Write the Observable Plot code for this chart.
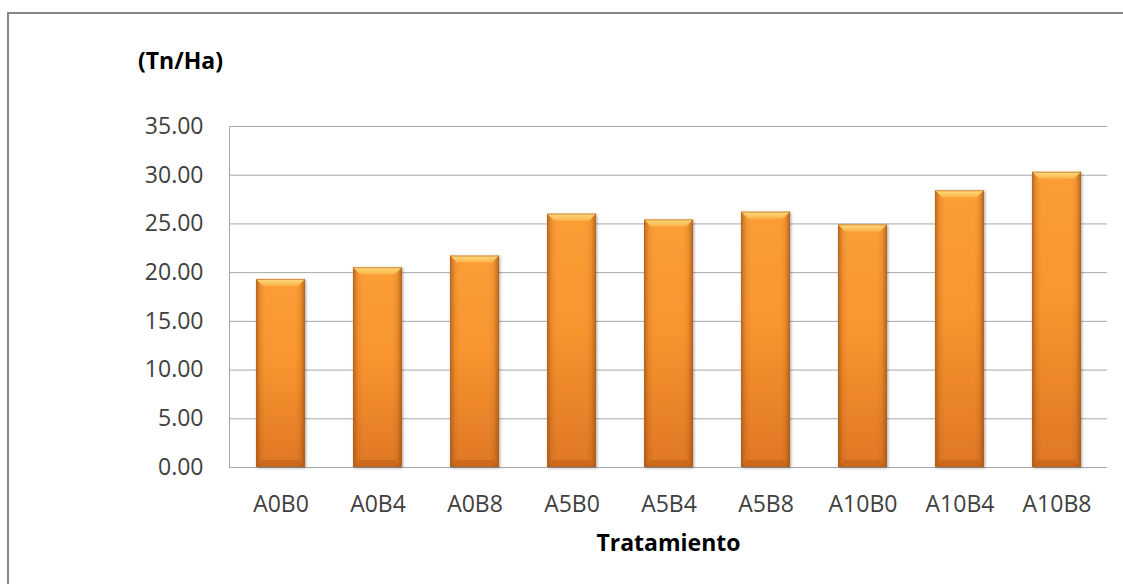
<!DOCTYPE html>
<html>
<head>
<meta charset="utf-8">
<script src="https://cdn.jsdelivr.net/npm/d3@7"></script>
<script src="https://cdn.jsdelivr.net/npm/@observablehq/plot@0.6"></script>
<style>
  html, body { margin: 0; padding: 0; background: #fff; overflow: hidden; }
  #wrap { position: relative; width: 1123px; height: 584px; }
  #box {
    position: absolute; left: 7px; top: 12px; width: 1200px; height: 700px;
    border: 2px solid #878787; box-sizing: border-box; pointer-events: none;
  }
</style>
</head>
<body>
<div id="wrap"><div id="box"></div></div>
<script>
// Rendimiento por tratamiento (Tn/Ha)
const tratamientos = ["A0B0", "A0B4", "A0B8", "A5B0", "A5B4", "A5B8", "A10B0", "A10B4", "A10B8"];
const rendimiento = [19.3, 20.5, 21.7, 26.0, 25.4, 26.2, 24.9, 28.4, 30.3];
const yTicks = [0, 5, 10, 15, 20, 25, 30, 35];

const data = tratamientos.map((t, i) => ({tratamiento: t, valor: rendimiento[i]}));

const font = "'Open Sans', 'DejaVu Sans', sans-serif";

const chart = Plot.plot({
  width: 1123,
  height: 584,
  marginLeft: 229,
  marginRight: 16,
  marginTop: 126,
  marginBottom: 117,
  style: {fontFamily: font, fontSize: "23px", color: "#404040", background: "transparent"},
  x: {domain: tratamientos, paddingInner: 0.5, paddingOuter: 0.25, label: null},
  y: {domain: [0, 35], label: null},
  marks: [
    Plot.gridY(yTicks, {stroke: "#a8a8a8", strokeOpacity: 1}),
    Plot.frame({anchor: "left", stroke: "#a8a8a8"}),
    Plot.ruleY([0], {stroke: "#a8a8a8"}),
    Plot.axisY(yTicks, {tickSize: 0, tickPadding: 26, tickFormat: d => d.toFixed(2), fill: "#404040"}),
    Plot.axisX({tickSize: 0, tickPadding: 28, fill: "#404040"}),
    Plot.barY(data, {x: "tratamiento", y: "valor", fill: "url(#barBody)"}),
    Plot.text(["(Tn/Ha)"], {frameAnchor: "top-left", dx: -49, dy: -65, textAnchor: "middle", lineAnchor: "middle", fontWeight: "bold", fill: "#000", fontSize: 23}),
    Plot.text(["Tratamiento"], {frameAnchor: "bottom", dy: 76, textAnchor: "middle", lineAnchor: "middle", fontWeight: "bold", fill: "#000", fontSize: 23})
  ]
});

// Gradients and bevel styling for the bars
const svg = d3.select(chart);
const defs = svg.insert("defs", ":first-child");

const bodyGrad = defs.append("linearGradient").attr("id", "barBody")
  .attr("x1", 0).attr("y1", 0).attr("x2", 0).attr("y2", 1);
bodyGrad.append("stop").attr("offset", 0).attr("stop-color", "#fc9d36");
bodyGrad.append("stop").attr("offset", 0.45).attr("stop-color", "#f8952f");
bodyGrad.append("stop").attr("offset", 1).attr("stop-color", "#df7726");

const sidesGrad = defs.append("linearGradient").attr("id", "barSides")
  .attr("x1", 0).attr("y1", 0).attr("x2", 1).attr("y2", 0);
[[0, 0.55], [0.1, 0.12], [0.2, 0], [0.8, 0], [0.9, 0.12], [1, 0.6]].forEach(([o, a]) =>
  sidesGrad.append("stop").attr("offset", o).attr("stop-color", "#8a4208").attr("stop-opacity", a));

const topGrad = defs.append("linearGradient").attr("id", "barTop")
  .attr("x1", 0).attr("y1", 0).attr("x2", 0).attr("y2", 1);
topGrad.append("stop").attr("offset", 0).attr("stop-color", "#fedd7e");
topGrad.append("stop").attr("offset", 1).attr("stop-color", "#fbb24a");

const shadow = defs.append("filter").attr("id", "barShadow")
  .attr("x", "-20%").attr("y", "-5%").attr("width", "140%").attr("height", "110%");
shadow.append("feDropShadow").attr("dx", 1).attr("dy", 1).attr("stdDeviation", 1.6)
  .attr("flood-color", "#000").attr("flood-opacity", 0.35);

const barGroup = svg.select("g[aria-label='bar']");
barGroup.attr("filter", "url(#barShadow)");
barGroup.selectAll("rect").each(function () {
  const r = d3.select(this);
  const x = +r.attr("x"), y = +r.attr("y"), w = +r.attr("width"), h = +r.attr("height");
  const g = d3.select(this.parentNode);
  const b = 7;
  g.append("rect").attr("x", x).attr("y", y).attr("width", w).attr("height", h)
    .attr("fill", "url(#barSides)");
  g.append("path")
    .attr("d", `M${x},${y}H${x + w}L${x + w - b},${y + b}H${x + b}Z`)
    .attr("fill", "url(#barTop)");
  g.append("path")
    .attr("d", `M${x},${y + h}H${x + w}L${x + w - b},${y + h - b}H${x + b}Z`)
    .attr("fill", "#a85410").attr("fill-opacity", 0.35);
  g.append("rect").attr("x", x + 0.5).attr("y", y + 0.5).attr("width", w - 1).attr("height", h - 1)
    .attr("fill", "none").attr("stroke", "#b8601a").attr("stroke-opacity", 0.6);
});

document.getElementById("wrap").prepend(chart);
chart.style.position = "absolute";
chart.style.left = "0";
chart.style.top = "0";
</script>
</body>
</html>
